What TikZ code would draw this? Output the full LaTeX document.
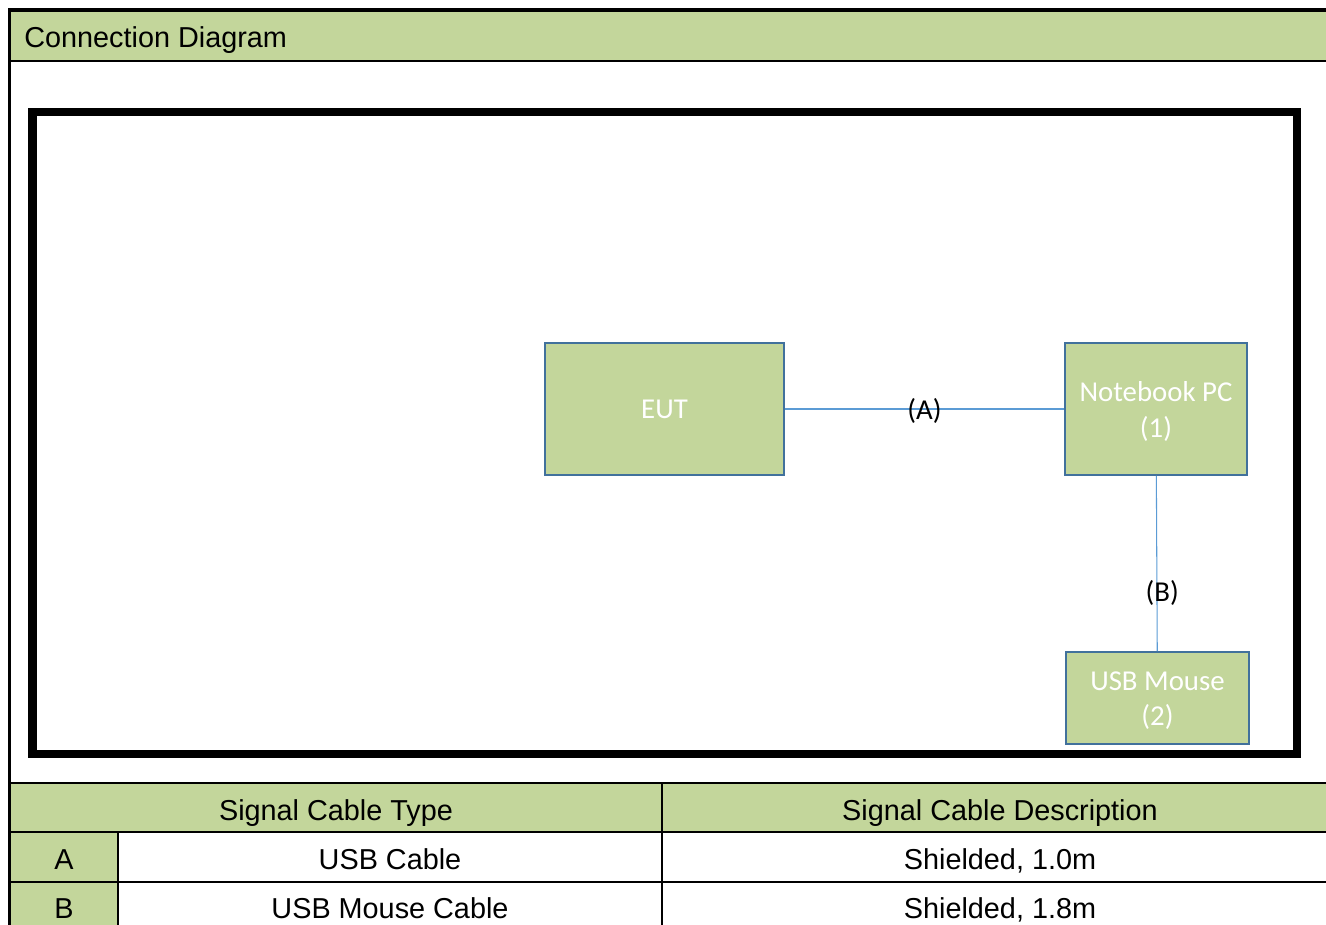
\documentclass[tikz,border=0pt]{standalone}
\usepackage{fontspec}
\setmainfont{Liberation Sans}
\newfontfamily\calibri{Carlito}
\usetikzlibrary{positioning}

\definecolor{olivegreen}{RGB}{195,214,155}
\definecolor{boxblue}{RGB}{65,113,156}
\definecolor{cableblue}{RGB}{91,155,213}

\newcommand{\unittext}[1]{\raisebox{-1.5pt}[\height][\depth]{\parbox{3.5cm}{\centering #1}}}

\tikzset{
    unit/.style={draw=boxblue, line width=1.1pt, fill=olivegreen, text=white,
        font=\calibri\fontsize{16.4}{20.4}\selectfont, align=center, inner sep=0pt},
    cable/.style={draw=cableblue, line width=0.6pt},
    cablelabel/.style={font=\calibri\fontsize{16.4}{20.4}\selectfont, inner sep=1pt, yshift=-1.1pt},
    cell/.style={font=\fontsize{16.4}{19}\selectfont, anchor=base, inner sep=0pt},
    rule/.style={line width=1.1pt}
}

\begin{document}
\begin{tikzpicture}[x=0.02cm, y=-0.02cm]
    % Page size
    \useasboundingbox (0,0) rectangle (1326,925);

    % Title band
    \fill[olivegreen] (10,10) rectangle (1326,61);
    \draw[rule] (10,61) -- (1326,61);
    \node[cell, anchor=base west] (title) at (24,47.5) {Connection Diagram};

    % Table background
    \fill[olivegreen] (10,783) rectangle (1326,832);
    \fill[olivegreen] (10,832) rectangle (118,925);

    % Table rules
    \draw[rule] (10,783) -- (1326,783);
    \draw[rule] (10,832) -- (1326,832);
    \draw[rule] (10,882) -- (1326,882);
    \draw[rule] (662,783) -- (662,925);
    \draw[rule] (118,832) -- (118,925);

    % Outer frame
    \draw[line width=2pt] (9.5,925) -- (9.5,10) -- (1326,10);

    % Setup frame
    \draw[line width=5pt] (32.5,112) rectangle (1297,754);

    % Units
    \node[unit, minimum width=4.78cm, minimum height=2.64cm] (eut) at (664.5,409) {EUT};
    \node[unit, minimum width=3.64cm, minimum height=2.64cm] (pc) at (1156,409) {\unittext{Notebook PC\\(1)}};
    \node[unit, minimum width=3.66cm, minimum height=1.84cm] (mouse) at (1157.5,698) {\unittext{USB Mouse\\(2)}};

    % Cables
    \draw[cable] (eut) -- node[cablelabel] (lblA) {(A)} (pc);
    \draw[cable] (pc) -- node[cablelabel, pos=0.66, xshift=3pt] (lblB) {(B)} (mouse);

    % Table text
    \node[cell] (typehead) at (336,820) {Signal Cable Type};
    \node[cell] (deschead) at (1000,820) {Signal Cable Description};
    \node[cell] (idA) at (64,869) {A};
    \node[cell] (typeA) at (390,869) {USB Cable};
    \node[cell] (descA) at (1000,869) {Shielded, 1.0m};
    \node[cell] (idB) at (64,918) {B};
    \node[cell] (typeB) at (390,918) {USB Mouse Cable};
    \node[cell] (descB) at (1000,918) {Shielded, 1.8m};
\end{tikzpicture}
\end{document}
